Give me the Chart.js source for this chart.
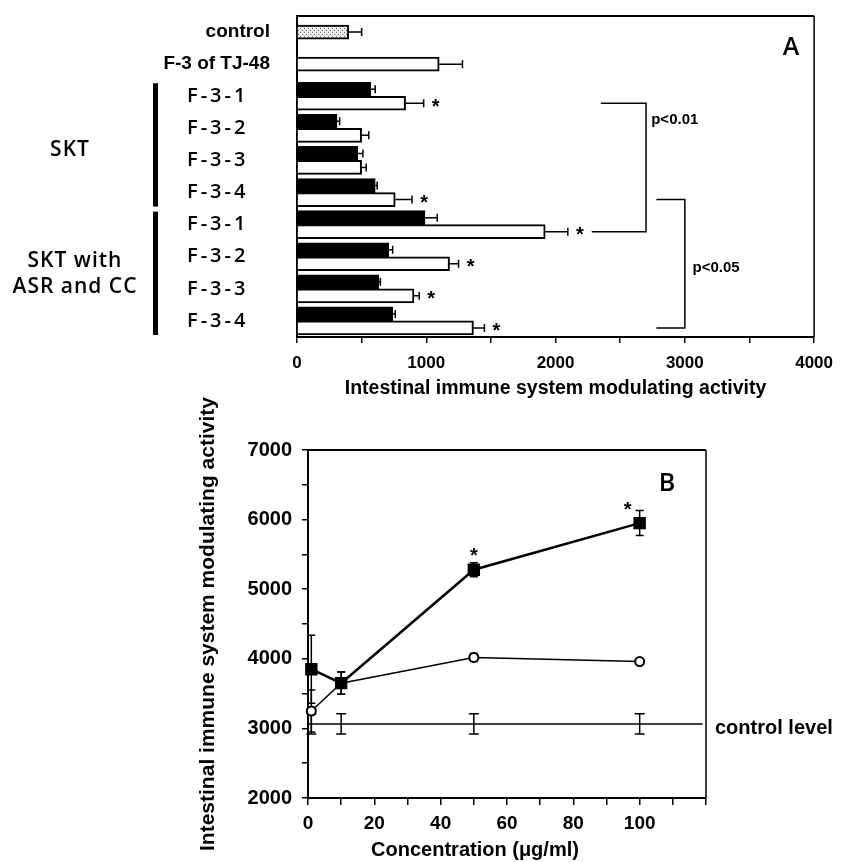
<!DOCTYPE html>
<html>
<head>
<meta charset="utf-8">
<script src="https://cdn.jsdelivr.net/npm/chart.js@4.4.0/dist/chart.umd.min.js"></script>
<style>
  html, body { margin: 0; padding: 0; background: #fff; }
  #wrap { position: relative; width: 843px; height: 862px; }
  canvas { position: absolute; left: 0; }
  #chartA { top: 0; }
  #chartB { top: 380px; }
</style>
</head>
<body>
<div id="wrap">
  <canvas id="chartA" width="843" height="405"></canvas>
  <canvas id="chartB" width="843" height="482"></canvas>
</div>
<script>
// ---- panel A data
const categories = ['control', 'F-3 of TJ-48', 'F-3-1', 'F-3-2', 'F-3-3', 'F-3-4', 'F-3-1', 'F-3-2', 'F-3-3', 'F-3-4'];
const blackBars = [400, null, 570, 310, 470, 605, 990, 710, 633, 740];
const blackErr = [100, 0, 35, 20, 40, 15, 95, 30, 12, 20];
const whiteBars = [null, 1100, 840, 500, 500, 760, 1920, 1180, 905, 1365];
const whiteErr = [0, 180, 140, 55, 35, 130, 175, 70, 40, 85];
const whiteStars = [false, false, true, false, false, true, true, true, true, true];
const groupSKT = ['SKT'];
const groupASR = ['SKT with', 'ASR and CC'];
const xTicksA = [0, 1000, 2000, 3000, 4000];

// ---- panel B data
const concentrations = [1, 10, 50, 100];
const squareValues = [3850, 3650, 5280, 5950];
const squareErr = [490, 160, 100, 180];
const squareStars = [false, false, true, true];
const circleValues = [3250, 3650, 4020, 3960];
const circleErr = [300, 160, 60, 40];
const controlLevel = 3065;
const controlErr = 145;
const controlSpan = [0, 119];
const xTicksB = [0, 20, 40, 60, 80, 100];
const yTicksB = [2000, 3000, 4000, 5000, 6000, 7000];

Chart.defaults.font.family = '"Liberation Sans", Arial, sans-serif';
Chart.defaults.font.weight = 'bold';
Chart.defaults.color = '#000';
Chart.defaults.animation = false;

const ARIAL = '"Liberation Sans", Arial, sans-serif';
const GILL = '"Open Sans", "Noto Sans", sans-serif';

// stippled fill for the control bar
const dots = document.createElement('canvas');
dots.width = 4; dots.height = 4;
const dctx = dots.getContext('2d');
dctx.fillStyle = '#ececec';
dctx.fillRect(0, 0, 4, 4);
dctx.fillStyle = '#666';
dctx.fillRect(0, 0, 1, 1);
dctx.fillRect(2, 2, 1, 1);
const stipple = document.getElementById('chartA').getContext('2d').createPattern(dots, 'repeat');

const frame = (ctx, area) => {
  ctx.save();
  ctx.strokeStyle = '#000';
  ctx.lineWidth = 2;
  ctx.beginPath();
  ctx.moveTo(area.left, area.top);
  ctx.lineTo(area.right, area.top);
  ctx.stroke();
  ctx.lineWidth = 1.5;
  ctx.beginPath();
  ctx.moveTo(area.right, area.top);
  ctx.lineTo(area.right, area.bottom);
  ctx.stroke();
  ctx.restore();
};

const panelA = {
  id: 'panelA',
  afterDatasetsDraw(chart) {
    const { ctx, scales: { x } } = chart;
    const black = chart.getDatasetMeta(0).data;
    const white = chart.getDatasetMeta(1).data;
    ctx.save();
    ctx.strokeStyle = '#000';
    ctx.lineWidth = 1.5;

    const errBar = (bar, v, e) => {
      const x1 = x.getPixelForValue(v + e);
      ctx.beginPath();
      ctx.moveTo(bar.x, bar.y);
      ctx.lineTo(x1, bar.y);
      ctx.moveTo(x1, bar.y - 4);
      ctx.lineTo(x1, bar.y + 4);
      ctx.stroke();
      return x1;
    };

    ctx.font = 'bold 20px ' + ARIAL;
    ctx.fillStyle = '#000';
    ctx.textAlign = 'center';
    ctx.textBaseline = 'middle';
    categories.forEach((c, i) => {
      if (blackBars[i] !== null) errBar(black[i], blackBars[i], blackErr[i]);
      if (whiteBars[i] !== null) {
        const end = errBar(white[i], whiteBars[i], whiteErr[i]);
        if (whiteStars[i]) ctx.fillText('*', end + 12, white[i].y + 4);
      }
    });

    // significance brackets
    ctx.lineWidth = 1.5;
    const px = v => x.getPixelForValue(v);
    const yTop1 = white[2].y, yBot1 = white[6].y;
    ctx.beginPath();
    ctx.moveTo(px(2350), yTop1); ctx.lineTo(px(2700), yTop1);
    ctx.lineTo(px(2700), yBot1); ctx.lineTo(px(2280), yBot1);
    ctx.stroke();
    const yTop2 = white[5].y, yBot2 = white[9].y;
    ctx.beginPath();
    ctx.moveTo(px(2780), yTop2); ctx.lineTo(px(3000), yTop2);
    ctx.lineTo(px(3000), yBot2); ctx.lineTo(px(2780), yBot2);
    ctx.stroke();
    ctx.font = 'bold 15px ' + ARIAL;
    ctx.textAlign = 'left';
    ctx.fillText('p<0.01', px(2740), yTop1 + 17);
    ctx.fillText('p<0.05', px(3060), (yTop2 + yBot2) / 2 + 4);
    ctx.restore();
  },
  afterDraw(chart) {
    const { ctx, scales: { y }, chartArea } = chart;
    frame(ctx, chartArea);
    ctx.save();
    ctx.fillStyle = '#000';
    ctx.textBaseline = 'middle';
    categories.forEach((c, i) => {
      const yy = y.getPixelForValue(i);
      if (i < 2) {
        ctx.font = 'bold 19px ' + ARIAL;
        ctx.textAlign = 'right';
        ctx.letterSpacing = '0px';
        ctx.fillText(c, 270, yy);
      } else {
        ctx.font = '600 20px ' + GILL;
        ctx.textAlign = 'left';
        ctx.letterSpacing = '3px';
        ctx.fillText(c, 187, yy);
      }
    });
    // group bars and names
    const groupBar = (from, to) => {
      const top = y.getPixelForValue(from) - 13;
      const bot = y.getPixelForValue(to) + 14;
      ctx.fillRect(153, top, 5, bot - top);
      return (top + bot) / 2;
    };
    ctx.font = '600 21px ' + GILL;
    ctx.letterSpacing = '1px';
    ctx.textAlign = 'center';
    const mid1 = groupBar(2, 5);
    ctx.fillText(groupSKT[0], 70, mid1 + 5);
    const mid2 = groupBar(6, 9);
    ctx.fillText(groupASR[0], 75, mid2 - 12);
    ctx.fillText(groupASR[1], 75, mid2 + 14);
    ctx.letterSpacing = '0px';
    ctx.font = '600 25px ' + GILL;
    ctx.fillText('A', 791, 48);
    ctx.restore();
  }
};

new Chart(document.getElementById('chartA'), {
  type: 'bar',
  data: {
    labels: categories,
    datasets: [
      {
        data: blackBars,
        backgroundColor: blackBars.map((v, i) => i === 0 ? stipple : '#000'),
        borderColor: '#000',
        borderWidth: 2
      },
      {
        data: whiteBars,
        backgroundColor: '#fff',
        borderColor: '#000',
        borderWidth: 2
      }
    ]
  },
  options: {
    responsive: false,
    indexAxis: 'y',
    skipNull: true,
    barThickness: 14,
    layout: { padding: { left: 0, top: 16, right: 24, bottom: 0 } },
    plugins: { legend: { display: false }, tooltip: { enabled: false } },
    scales: {
      y: {
        type: 'category',
        ticks: { display: false },
        grid: { display: false },
        border: { display: true, color: '#000', width: 2 },
        afterFit: s => { s.width = 297; }
      },
      x: {
        min: 0,
        max: 4000,
        ticks: {
          stepSize: 500,
          autoSkip: false,
          maxRotation: 0,
          padding: 10,
          font: { size: 17, weight: 'bold' },
          callback: v => xTicksA.includes(v) ? v : ''
        },
        grid: { drawOnChartArea: false, drawTicks: true, tickLength: 6, color: '#000', lineWidth: 1.5 },
        border: { display: true, color: '#000', width: 2 },
        title: {
          display: true,
          text: 'Intestinal immune system modulating activity',
          font: { size: 19.5, weight: 'bold' },
          padding: { top: 0, bottom: 5 }
        },
        afterFit: s => { s.height = 405 - 337; }
      }
    }
  },
  plugins: [panelA]
});

const panelB = {
  id: 'panelB',
  beforeDatasetsDraw(chart) {
    const { ctx, scales: { x, y } } = chart;
    ctx.save();
    ctx.strokeStyle = '#000';
    ctx.lineWidth = 1.5;
    const iBar = (c, v, e, w) => {
      const xx = x.getPixelForValue(c);
      const y0 = y.getPixelForValue(v - e), y1 = y.getPixelForValue(v + e);
      ctx.beginPath();
      ctx.moveTo(xx, y0); ctx.lineTo(xx, y1);
      ctx.moveTo(xx - w, y0); ctx.lineTo(xx + w, y0);
      ctx.moveTo(xx - w, y1); ctx.lineTo(xx + w, y1);
      ctx.stroke();
    };
    concentrations.forEach((c, i) => {
      iBar(c, controlLevel, controlErr, 5);
      iBar(c, circleValues[i], circleErr[i], 4);
      iBar(c, squareValues[i], squareErr[i], 4);
    });
    ctx.restore();
  },
  afterDraw(chart) {
    const { ctx, scales: { x, y }, chartArea } = chart;
    frame(ctx, chartArea);
    ctx.save();
    ctx.fillStyle = '#000';
    ctx.textBaseline = 'middle';
    ctx.textAlign = 'center';
    ctx.font = 'bold 20px ' + ARIAL;
    concentrations.forEach((c, i) => {
      if (squareStars[i]) {
        const last = i === concentrations.length - 1;
        const sx = x.getPixelForValue(c) - (last ? 12 : 0);
        const sy = y.getPixelForValue(squareValues[i] + squareErr[i]) - (last ? 0 : 6);
        ctx.fillText('*', sx, sy);
      }
    });
    ctx.textAlign = 'left';
    ctx.fillText('control level', chartArea.right + 9, y.getPixelForValue(controlLevel) + 5);
    ctx.textAlign = 'center';
    ctx.fillText('Concentration (μg/ml)', 475, chartArea.bottom + 52);
    ctx.font = '600 25px ' + GILL;
    ctx.fillText('B', 667, chartArea.top + 34);
    ctx.restore();
  }
};

new Chart(document.getElementById('chartB'), {
  type: 'scatter',
  data: {
    datasets: [
      {
        data: concentrations.map((c, i) => ({ x: c, y: squareValues[i] })),
        showLine: true,
        borderColor: '#000',
        borderWidth: 2.5,
        pointStyle: 'rect',
        pointRadius: 7,
        pointBackgroundColor: '#000',
        pointBorderColor: '#000',
        clip: false
      },
      {
        data: concentrations.map((c, i) => ({ x: c, y: circleValues[i] })),
        showLine: true,
        borderColor: '#000',
        borderWidth: 1.5,
        pointStyle: 'circle',
        pointRadius: 4.5,
        pointBackgroundColor: '#fff',
        pointBorderColor: '#000',
        pointBorderWidth: 2,
        clip: false
      },
      {
        data: controlSpan.map(c => ({ x: c, y: controlLevel })),
        showLine: true,
        borderColor: '#000',
        borderWidth: 1.5,
        pointRadius: 0
      }
    ]
  },
  options: {
    responsive: false,
    layout: { padding: { left: 192, top: 70, right: 137, bottom: 0 } },
    plugins: { legend: { display: false }, tooltip: { enabled: false } },
    scales: {
      x: {
        type: 'linear',
        min: 0,
        max: 120,
        ticks: {
          stepSize: 10,
          autoSkip: false,
          maxRotation: 0,
          padding: 7,
          font: { size: 19, weight: 'bold' },
          callback: v => xTicksB.includes(v) ? v : ''
        },
        grid: { drawOnChartArea: false, drawTicks: true, tickLength: 7, color: '#000', lineWidth: 1.5 },
        border: { display: true, color: '#000', width: 2 },
        afterFit: s => { s.height = 482 - 418; }
      },
      y: {
        min: 2000,
        max: 7000,
        ticks: {
          stepSize: 500,
          autoSkip: false,
          padding: 10,
          font: { size: 20, weight: 'bold' },
          callback: v => yTicksB.includes(v) ? v : ''
        },
        grid: { drawOnChartArea: false, drawTicks: true, tickLength: 6, color: '#000', lineWidth: 1.5 },
        border: { display: true, color: '#000', width: 2 },
        title: {
          display: true,
          text: 'Intestinal immune system modulating activity',
          font: { size: 21, weight: 'bold' },
          padding: { top: 4, bottom: 0 }
        },
        afterFit: s => { s.width = 116; }
      }
    }
  },
  plugins: [panelB]
});
</script>
</body>
</html>
